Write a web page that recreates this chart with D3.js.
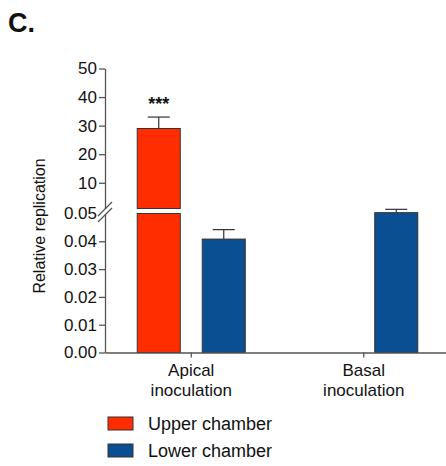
<!DOCTYPE html>
<html><head><meta charset="utf-8">
<script src="https://cdn.jsdelivr.net/npm/d3@7"></script>
<style>body{margin:0;background:#fff}svg{display:block;font-family:"Liberation Sans",Arial,sans-serif}</style>
</head><body><svg id="c" width="446" height="466"></svg>
<script>
// ---- data ----
const categories = ["Apical inoculation", "Basal inoculation"];
const series = ["Upper chamber", "Lower chamber"];
const upperValues = [29, null];          // upper chamber (plotted on upper segment)
const upperErrTop = [33, null];
const lowerValues = [0.0408, 0.0503];    // lower chamber (plotted on lower segment)
const lowerErrTop = [0.0442, 0.0515];
const upperTicks = [10, 20, 30, 40, 50];
const lowerTicks = [0, 0.01, 0.02, 0.03, 0.04, 0.05];
const colors = ["#ff2d00", "#0a4f92"];
const annotations = ["***", ""];

const svg = d3.select("#c");
const axisColor = "#555";

const x0 = d3.scaleBand().domain(categories).range([105, 450]);
const x1 = d3.scaleBand().domain(series).range([0, x0.bandwidth()]).paddingInner(0.338).paddingOuter(0.496);
const yHigh = d3.scaleLinear().domain([1, 50]).range([208.5, 68.5]);
const yLow = d3.scaleLinear().domain([0, 0.05]).range([352.5, 213.5]);

// bars
const bw = x1.bandwidth();
categories.forEach((c, i) => {
  // upper chamber bar (spans broken axis)
  if (upperValues[i] != null) {
    const bx = x0(c) + x1(series[0]);
    svg.append("rect").attr("x", bx).attr("y", yLow(0.05)).attr("width", bw).attr("height", yLow(0) - yLow(0.05))
      .attr("fill", colors[0]).attr("stroke", "#333").attr("stroke-width", 1);
    svg.append("rect").attr("x", bx).attr("y", yHigh(upperValues[i])).attr("width", bw).attr("height", yHigh(1) - yHigh(upperValues[i]))
      .attr("fill", colors[0]).attr("stroke", "#333").attr("stroke-width", 1);
    const cx = bx + bw / 2;
    svg.append("line").attr("x1", cx).attr("x2", cx).attr("y1", yHigh(upperValues[i])).attr("y2", yHigh(upperErrTop[i])).attr("stroke", "#333").attr("stroke-width", 1.2);
    svg.append("line").attr("x1", cx - 11).attr("x2", cx + 11).attr("y1", yHigh(upperErrTop[i])).attr("y2", yHigh(upperErrTop[i])).attr("stroke", "#333").attr("stroke-width", 1.2);
    svg.append("text").attr("x", cx).attr("y", yHigh(upperErrTop[i]) - 7).attr("text-anchor", "middle")
      .attr("font-size", 18).attr("font-weight", "bold").attr("fill", "#111").text(annotations[i]);
  }
  if (lowerValues[i] != null) {
    const bx = x0(c) + x1(series[1]);
    const cx = bx + bw / 2;
    svg.append("line").attr("x1", cx).attr("x2", cx).attr("y1", yLow(lowerValues[i])).attr("y2", yLow(lowerErrTop[i])).attr("stroke", "#333").attr("stroke-width", 1.2);
    svg.append("line").attr("x1", cx - 11).attr("x2", cx + 11).attr("y1", yLow(lowerErrTop[i])).attr("y2", yLow(lowerErrTop[i])).attr("stroke", "#333").attr("stroke-width", 1.2);
    svg.append("rect").attr("x", bx).attr("y", yLow(lowerValues[i])).attr("width", bw).attr("height", yLow(0) - yLow(lowerValues[i]))
      .attr("fill", colors[1]).attr("stroke", "#333").attr("stroke-width", 1);
  }
});

// axes
function styleAxis(g) {
  g.selectAll(".domain").attr("stroke", axisColor).attr("stroke-width", 1.3);
  g.selectAll(".tick line").attr("stroke", axisColor).attr("stroke-width", 1.3);
  g.selectAll(".tick text").attr("fill", "#111").attr("font-size", 17).attr("font-family", "Liberation Sans, Arial, sans-serif");
}
const gHigh = svg.append("g").attr("transform", "translate(105,0)")
  .call(d3.axisLeft(yHigh).tickValues(upperTicks).tickFormat(d3.format("d")).tickSize(6).tickPadding(2).tickSizeOuter(0));
styleAxis(gHigh);
const gLow = svg.append("g").attr("transform", "translate(105,0)")
  .call(d3.axisLeft(yLow).tickValues(lowerTicks).tickFormat(d3.format(".2f")).tickSize(6).tickPadding(2).tickSizeOuter(0));
styleAxis(gLow);
gLow.selectAll(".tick").filter(d => d === 0.05).select("line").remove();

// break marks
const by = (yHigh(1) + yLow(0.05)) / 2;
[-3, 3].forEach(o => {
  svg.append("line").attr("x1", 98 + o * 0.0).attr("y1", by + 8 + o).attr("x2", 112).attr("y2", by - 6 + o)
    .attr("stroke", axisColor).attr("stroke-width", 1.2);
});

// x axis
const gx = svg.append("g").attr("transform", `translate(0,${yLow(0)})`)
  .call(d3.axisBottom(x0).tickSize(5).tickSizeOuter(0).tickFormat(""));
gx.selectAll(".domain").attr("stroke", axisColor).attr("stroke-width", 1.3);
gx.selectAll(".tick line").attr("stroke", axisColor).attr("stroke-width", 1.3);
categories.forEach(c => {
  const words = c.split(" ");
  const t = svg.append("text").attr("x", x0(c) + x0.bandwidth() / 2).attr("y", 376).attr("text-anchor", "middle")
    .attr("font-size", 17).attr("fill", "#111");
  words.forEach((w, k) => t.append("tspan").attr("x", x0(c) + x0.bandwidth() / 2).attr("dy", k ? 19.5 : 0).text(w));
});

// y label
svg.append("text").attr("transform", "translate(45,226) rotate(-90)").attr("text-anchor", "middle")
  .attr("font-size", 16).attr("fill", "#111").text("Relative replication");

// panel letter
svg.append("text").attr("x", 8).attr("y", 32).attr("font-size", 27).attr("font-weight", "bold").attr("fill", "#111").text("C.");

// legend
series.forEach((s, i) => {
  const ly = 417 + i * 27;
  svg.append("rect").attr("x", 108).attr("y", ly).attr("width", 25).attr("height", 13)
    .attr("fill", colors[i]).attr("stroke", "#333").attr("stroke-width", 1);
  svg.append("text").attr("x", 148).attr("y", ly + 13).attr("font-size", 18).attr("fill", "#111").text(s);
});
</script></body></html>
